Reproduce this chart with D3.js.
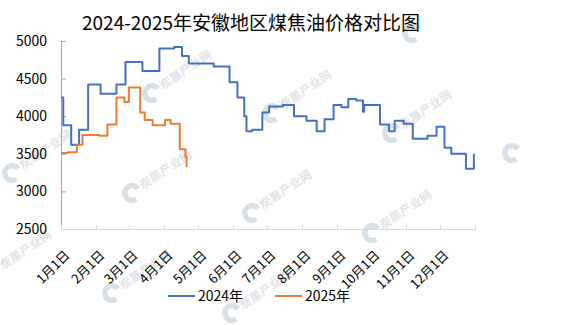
<!DOCTYPE html>
<html lang="zh">
<head>
<meta charset="UTF-8">
<title>2024-2025年安徽地区煤焦油价格对比图</title>
<script src="https://d3js.org/d3.v7.min.js"></script>
<style>
  body { margin: 0; background: #fff; }
  svg { display: block; font-family: "Noto Sans CJK SC", "Microsoft YaHei", sans-serif; }
</style>
</head>
<body>
<svg id="chart"></svg>
<script>
// price change points (value holds until the next date)
const dates2024 = ["2024-01-01", "2024-01-03", "2024-01-10", "2024-01-17", "2024-01-25", "2024-02-05",
  "2024-02-19", "2024-02-27", "2024-03-13", "2024-03-28", "2024-04-10", "2024-04-17", "2024-04-23",
  "2024-05-15", "2024-05-29", "2024-06-05", "2024-06-11", "2024-06-13", "2024-06-18", "2024-06-27",
  "2024-07-03", "2024-07-15", "2024-07-25", "2024-08-05", "2024-08-14", "2024-08-21", "2024-08-29",
  "2024-09-05", "2024-09-11", "2024-09-18", "2024-09-24", "2024-09-25", "2024-10-09", "2024-10-17",
  "2024-10-22", "2024-10-30", "2024-11-07", "2024-11-20", "2024-11-28", "2024-12-05", "2024-12-11",
  "2024-12-24", "2024-12-31"];
const values2024 = [4250, 3880, 3620, 3820, 4420, 4300,
  4420, 4720, 4600, 4900, 4920, 4800, 4700,
  4660, 4450, 4250, 4000, 3800, 3820, 4050,
  4130, 4150, 4000, 3940, 3800, 3960, 4150,
  4120, 4230, 4210, 4060, 4150, 3890, 3800,
  3940, 3900, 3700, 3740, 3860, 3580, 3500,
  3300, 3500];

const dates2025 = ["2025-01-01", "2025-01-07", "2025-01-15", "2025-01-20", "2025-02-04", "2025-02-11",
  "2025-02-19", "2025-02-26", "2025-03-01", "2025-03-11", "2025-03-15", "2025-03-22", "2025-04-02",
  "2025-04-07", "2025-04-15", "2025-04-20", "2025-04-21"];
const values2025 = [3510, 3520, 3620, 3750, 3740, 3890,
  4250, 4190, 4380, 4050, 3950, 3880, 3950,
  3900, 3560, 3460, 3320];

const seriesNames = ["2024年", "2025年"];
const colors = ["#4472C4", "#ED7D31"];
const yTicks = [2500, 3000, 3500, 4000, 4500, 5000];
const monthLabels = ["1月1日", "2月1日", "3月1日", "4月1日", "5月1日", "6月1日",
  "7月1日", "8月1日", "9月1日", "10月1日", "11月1日", "12月1日"];
const title = "2024-2025年安徽地区煤焦油价格对比图";
const watermark = "炭黑产业网";

const width = 587, height = 325;
const margin = { top: 41, right: 112, bottom: 96, left: 61 };

const svg = d3.select("#chart").attr("width", width).attr("height", height);

const parse = d3.timeParse("%Y-%m-%d");
// 2025 drawn on the same month axis as 2024
const toAxis = d => { const t = parse(d); t.setFullYear(2024); return t; };

const x = d3.scaleTime()
  .domain([new Date(2024, 0, 1), new Date(2025, 0, 1)])
  .range([margin.left, width - margin.right]);

const y = d3.scaleLinear()
  .domain([2500, 5000])
  .range([height - margin.bottom, margin.top]);

// faint watermark tiles (logo + text; some tiles only show the logo)
const wmBase = [152, 93], wmA = [120, 20], wmB = [-20, 100];
const wmCells = [[-1, 1, true], [-1, 2, true], [0, 0, true], [0, 1, true], [0, 2, true],
  [1, 0, true], [1, 1, true], [1, 2, true], [2, 0, true], [2, 1, true], [2, -1, false], [3, 0, false]];
const wmArc = d3.arc().innerRadius(4.5).outerRadius(10)
  .startAngle(Math.PI * 0.8).endAngle(Math.PI * 2.3);
const wm = svg.append("g").attr("class", "watermark");
wmCells.forEach(([i, j, withText]) => {
  const px = wmBase[0] + i * wmA[0] + j * wmB[0];
  const py = wmBase[1] + i * wmA[1] + j * wmB[1];
  wm.append("path")
    .attr("d", wmArc)
    .attr("transform", `translate(${px},${py})`)
    .attr("fill", "#d8e1e8");
  if (!withText) return;
  wm.append("text")
    .attr("transform", `translate(${px + 11},${py - 3}) rotate(-34)`)
    .attr("font-size", 12)
    .attr("font-weight", "bold")
    .attr("fill", "#e1e5e9")
    .text(watermark);
});

// title
svg.append("text")
  .attr("x", 251)
  .attr("y", 30)
  .attr("text-anchor", "middle")
  .attr("font-size", 19)
  .attr("fill", "#000")
  .text(title);

// y axis
const yAxis = svg.append("g")
  .attr("transform", `translate(${margin.left},0)`)
  .call(d3.axisLeft(y).tickValues(yTicks).tickSize(-5).tickPadding(14).tickFormat(d3.format("d")));
yAxis.select(".domain").attr("stroke", "#a6a6a6");
yAxis.selectAll(".tick line").attr("stroke", "#a6a6a6");
yAxis.selectAll(".tick text")
  .attr("font-size", 14)
  .attr("font-family", "Noto Sans CJK SC, sans-serif")
  .attr("fill", "#000");

// x axis
const tickDates = d3.timeMonth.range(new Date(2024, 0, 1), new Date(2025, 0, 2));
const xAxis = svg.append("g")
  .attr("transform", `translate(0,${height - margin.bottom})`)
  .call(d3.axisBottom(x).tickValues(tickDates).tickSize(-4).tickFormat((d, i) => monthLabels[i] || ""));
xAxis.select(".domain").attr("stroke", "#d9d9d9");
xAxis.selectAll(".tick line").attr("stroke", "#d9d9d9");
xAxis.selectAll(".tick text")
  .attr("font-size", 13)
  .attr("font-family", "Noto Sans CJK SC, sans-serif")
  .attr("fill", "#000")
  .attr("text-anchor", "end")
  .attr("y", 0)
  .attr("dy", 0)
  .attr("transform", "translate(9,27) rotate(-45)");

// lines
const line = d3.line()
  .x(d => x(d.date))
  .y(d => y(d.value))
  .curve(d3.curveStepAfter);

const s2024 = dates2024.map((d, i) => ({ date: parse(d), value: values2024[i] }));
const s2025 = dates2025.map((d, i) => ({ date: toAxis(d), value: values2025[i] }));

[s2024, s2025].forEach((s, i) => {
  svg.append("path")
    .datum(s)
    .attr("fill", "none")
    .attr("stroke", colors[i])
    .attr("stroke-width", 2)
    .attr("stroke-linejoin", "round")
    .attr("d", line);
});

// legend
const legendX = [168, 275];
seriesNames.forEach((name, i) => {
  const g = svg.append("g").attr("transform", `translate(${legendX[i]},296)`);
  g.append("line")
    .attr("x1", 0).attr("x2", 27)
    .attr("stroke", colors[i])
    .attr("stroke-width", 2);
  g.append("text")
    .attr("x", 30)
    .attr("dy", "0.36em")
    .attr("font-size", 14)
    .attr("fill", "#000")
    .text(name);
});
</script>
</body>
</html>
